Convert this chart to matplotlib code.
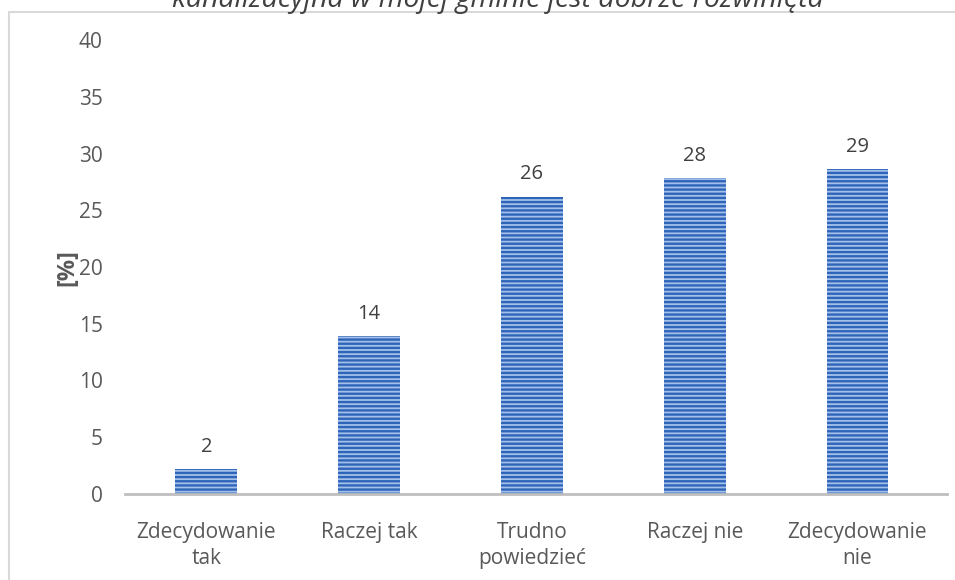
import matplotlib
matplotlib.use("Agg")
import matplotlib.pyplot as plt
from matplotlib.patches import Rectangle

categories = ["Zdecydowanie\ntak", "Raczej tak", "Trudno\npowiedzieć", "Raczej nie", "Zdecydowanie\nnie"]
values = [2.2, 13.9, 26.2, 27.8, 28.6]
yticks = [0, 5, 10, 15, 20, 25, 30, 35, 40]
title = "kanalizacyjna w mojej gminie jest dobrze rozwinięta"
ylabel = "[%]"

plt.rcParams['font.family'] = ['Open Sans', 'DejaVu Sans']
plt.rcParams['hatch.linewidth'] = 1.7
txt = '#595959'

fig = plt.figure(figsize=(9.55, 5.8), dpi=100)
# outer chart border
fig.patches.append(Rectangle((8.5/955, -0.1), 2, 1 - 11.5/580 + 0.1, transform=fig.transFigure,
                             fill=False, edgecolor='#D9D9D9', linewidth=1.5))
ax = fig.add_axes([125/955, 1 - 494/580, 822/955, 454/580])

x = list(range(len(categories)))
bars = ax.bar(x, values, width=0.38, color='#A3C0EA', edgecolor='#2F65B8',
              linewidth=0, hatch='----')
for xi, v in zip(x, values):
    ax.text(xi, v + 1.1, f"{v:.0f}", ha='center', va='bottom', fontsize=14.5, color='#404040')

ax.set_xlim(-0.5, 4.55)
ax.set_ylim(0, 40)
ax.set_yticks(yticks)
ax.set_yticklabels([str(t) for t in yticks], fontsize=15, color=txt)
ax.set_xticks(x)
ax.set_xticklabels(categories, fontsize=15, color=txt, linespacing=1.35)
ax.tick_params(axis='y', length=0, pad=16)
ax.tick_params(axis='x', length=0, pad=20)
for s in ['top', 'right', 'left']:
    ax.spines[s].set_visible(False)
ax.spines['bottom'].set_color('#BFBFBF')
ax.spines['bottom'].set_linewidth(2)

fig.text(67/955, 1 - 268/580, ylabel, rotation=90, ha='center', va='center',
         fontsize=17, fontweight='bold', color=txt)
fig.text(498/955, 1 - 7/580, title, ha='center', va='baseline', fontsize=20.5,
         style='italic', color='#404040')

fig.savefig("out.png", dpi=100)
